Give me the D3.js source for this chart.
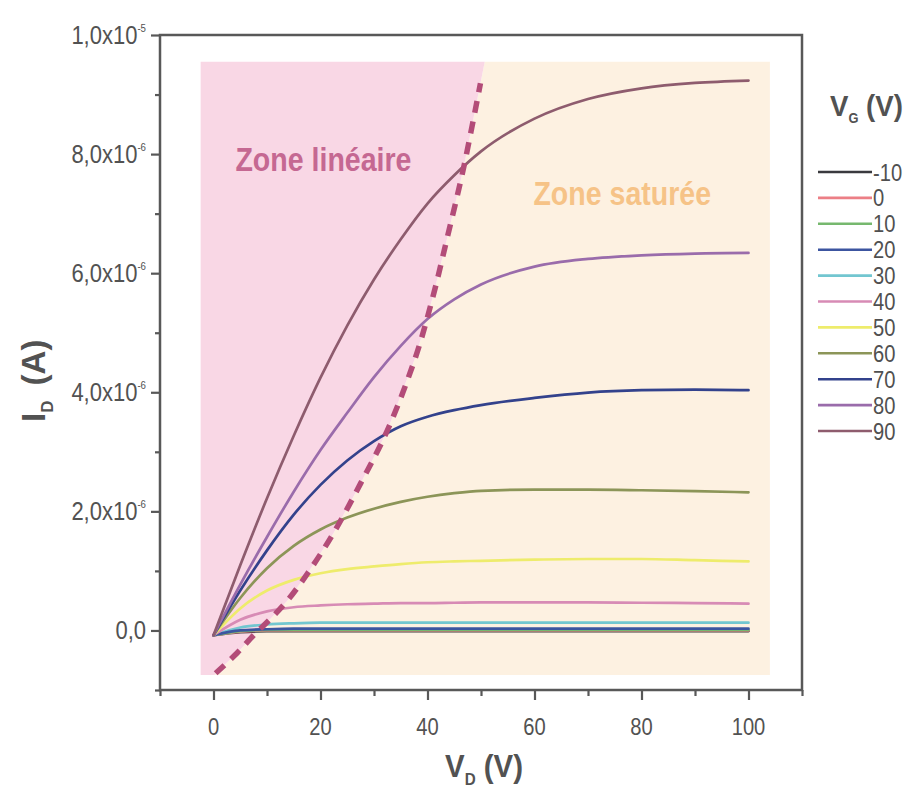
<!DOCTYPE html>
<html>
<head>
<meta charset="utf-8">
<script src="https://cdn.jsdelivr.net/npm/d3@7/dist/d3.min.js"></script>
<style>
  html, body { margin: 0; padding: 0; background: #ffffff; }
  svg { display: block; font-family: "Liberation Sans", Arial, sans-serif; }
</style>
</head>
<body>
<svg id="chart" width="912" height="790"></svg>
<script>
// ---------------- DATA ----------------
const vd = [0, 5, 10, 15, 20, 25, 30, 35, 40, 45, 50, 60, 70, 80, 90, 100];
const gateVoltages = [-10, 0, 10, 20, 30, 40, 50, 60, 70, 80, 90];
// drain current, units of 1e-6 A
const idM10 = [-0.08, -0.03, -0.01, -0.01, -0.01, -0.01, -0.01, -0.01, -0.01, -0.01, -0.01, -0.01, -0.01, -0.01, -0.01, -0.01];
const id0   = [-0.08, -0.02, 0.0, 0.0, 0.0, 0.0, 0.0, 0.0, 0.0, 0.0, 0.0, 0.0, 0.0, 0.0, 0.0, 0.0];
const id10  = [-0.08, -0.01, 0.01, 0.01, 0.01, 0.01, 0.01, 0.01, 0.01, 0.01, 0.01, 0.01, 0.01, 0.01, 0.01, 0.01];
const id20  = [-0.08, 0.0, 0.02, 0.03, 0.03, 0.03, 0.03, 0.03, 0.03, 0.03, 0.03, 0.03, 0.03, 0.03, 0.03, 0.03];
const id30  = [-0.08, 0.05, 0.10, 0.12, 0.13, 0.13, 0.13, 0.13, 0.13, 0.13, 0.13, 0.13, 0.13, 0.13, 0.13, 0.13];
const id40  = [-0.08, 0.18, 0.32, 0.39, 0.42, 0.44, 0.45, 0.46, 0.46, 0.465, 0.47, 0.47, 0.47, 0.465, 0.46, 0.45];
const id50  = [-0.08, 0.37, 0.67, 0.85, 0.96, 1.03, 1.075, 1.115, 1.145, 1.16, 1.17, 1.19, 1.20, 1.20, 1.18, 1.16];
const id60  = [-0.08, 0.545, 1.045, 1.42, 1.695, 1.895, 2.045, 2.16, 2.245, 2.305, 2.345, 2.365, 2.365, 2.355, 2.34, 2.32];
const id70  = [-0.08, 0.67, 1.345, 1.945, 2.445, 2.855, 3.18, 3.43, 3.59, 3.70, 3.785, 3.905, 3.995, 4.035, 4.045, 4.035];
const id80  = [-0.08, 0.77, 1.57, 2.33, 3.03, 3.655, 4.255, 4.78, 5.23, 5.56, 5.81, 6.11, 6.24, 6.30, 6.33, 6.34];
const id90  = [-0.08, 1.095, 2.22, 3.27, 4.245, 5.12, 5.895, 6.57, 7.17, 7.645, 8.045, 8.595, 8.925, 9.105, 9.195, 9.235];
const seriesValues = [idM10, id0, id10, id20, id30, id40, id50, id60, id70, id80, id90];

// saturation boundary (dashed line): VD and ID (1e-6 A)
const boundaryVD = [0.4, 4.5, 7.5, 10.7, 13.8, 17.6, 22.4, 27.5, 32.5, 37.8, 41.0, 43.7, 46.7, 49.9];
const boundaryID = [-0.72, -0.37, -0.08, 0.20, 0.50, 0.96, 1.63, 2.47, 3.36, 4.60, 5.60, 6.60, 7.75, 9.19];

// zone extents (data units)
const zoneLeftVD = -2.4, zoneRightVD = 104, zoneTopID = 9.55, zoneBottomID = -0.75;
const zoneTopBoundaryVD = 50.7, zoneBottomBoundaryVD = 0.2;

// ticks
const xMajorTicks = [0, 20, 40, 60, 80, 100];
const xMinorTicks = [-10, 10, 30, 50, 70, 90, 110];
const yMajorTicks = [0, 2, 4, 6, 8, 10];
const yMinorTicks = [-1, 1, 3, 5, 7, 9];
const yTickMantissa = ["0,0", "2,0x10", "4,0x10", "6,0x10", "8,0x10", "1,0x10"];
const yTickExponent = ["", "-6", "-6", "-6", "-6", "-5"];
const legendLabels = ["-10", "0", "10", "20", "30", "40", "50", "60", "70", "80", "90"];

// ---------------- STYLE ----------------
const colors = ["#3a3a3e", "#ec7f86", "#76b86e", "#3c55a0", "#72c6d0", "#d78bb5",
                "#eeec6c", "#8c9558", "#33428c", "#9a6cab", "#8e5c6e"];
const pinkFill = "#f9d7e5", peachFill = "#fdf1e1";
const textGray = "#525252";
const NARROW = 0.84;

const svg = d3.select("#chart");
const x = d3.scaleLinear().domain([-10, 110]).range([160, 802]);
const y = d3.scaleLinear().domain([-1, 10]).range([690, 35]);

function txt(parent, px, py, o) {
  const g = parent.append("g")
    .attr("transform", `translate(${px},${py})` + (o.rotate ? ` rotate(${o.rotate})` : "") + ` scale(${o.sx || 1},1)`);
  return g.append("text").attr("x", 0).attr("y", 0)
    .attr("text-anchor", o.anchor || "start")
    .attr("font-size", o.size).attr("font-weight", o.weight || "normal")
    .attr("fill", o.fill || textGray);
}

// ---------------- ZONES ----------------
const boundaryPts = boundaryVD.map((v, i) => [v, boundaryID[i]]);
const fullBoundary = [[zoneBottomBoundaryVD, zoneBottomID], ...boundaryPts, [zoneTopBoundaryVD, zoneTopID]];
const poly = d3.line().x(d => x(d[0])).y(d => y(d[1]));
const pinkPoly = [[zoneLeftVD, zoneBottomID], ...fullBoundary, [zoneLeftVD, zoneTopID]];
const peachPoly = [...fullBoundary, [zoneRightVD, zoneTopID], [zoneRightVD, zoneBottomID]];
svg.append("path").attr("d", poly(peachPoly) + "Z").attr("fill", peachFill);
svg.append("path").attr("d", poly(pinkPoly) + "Z").attr("fill", pinkFill);

txt(svg, x(4.1), y(7.72), { size: 34, weight: "bold", fill: "#c56892", sx: NARROW }).text("Zone linéaire");
txt(svg, x(59.8), y(7.14), { size: 34, weight: "bold", fill: "#f6c387", sx: NARROW }).text("Zone saturée");

// ---------------- CURVES ----------------
const line = d3.line().x(d => x(d[0])).y(d => y(d[1])).curve(d3.curveMonotoneX);
const order = [0, 1, 2, 4, 3, 5, 6, 7, 8, 9, 10];
order.forEach(i => {
  const pts = vd.map((v, k) => [v, seriesValues[i][k]]);
  svg.append("path").attr("d", line(pts))
    .attr("fill", "none").attr("stroke", colors[i]).attr("stroke-width", 2.7)
    .attr("stroke-linejoin", "round").attr("stroke-linecap", "round");
});

const bline = d3.line().x(d => x(d[0])).y(d => y(d[1])).curve(d3.curveCatmullRom);
svg.append("path").attr("d", bline(boundaryPts))
  .attr("fill", "none").attr("stroke", "#b34c78").attr("stroke-width", 5.5)
  .attr("stroke-dasharray", "12,9");

// ---------------- AXES ----------------
const axisColor = "#585858";
const gx = svg.append("g").attr("transform", "translate(0,690)")
  .call(d3.axisBottom(x).tickValues(xMajorTicks).tickSize(10).tickFormat(""));
const gxm = svg.append("g").attr("transform", "translate(0,690)")
  .call(d3.axisBottom(x).tickValues(xMinorTicks).tickSize(6).tickFormat(""));
const gy = svg.append("g").attr("transform", "translate(160,0)")
  .call(d3.axisLeft(y).tickValues(yMajorTicks).tickSize(9).tickFormat(""));
const gym = svg.append("g").attr("transform", "translate(160,0)")
  .call(d3.axisLeft(y).tickValues(yMinorTicks).tickSize(5).tickFormat(""));
[gx, gxm, gy, gym].forEach(g => {
  g.select(".domain").remove();
  g.selectAll(".tick line").attr("stroke", axisColor).attr("stroke-width", 2.2);
  g.selectAll(".tick text").remove();
});

xMajorTicks.forEach(v => {
  txt(svg, x(v), 735, { size: 24, anchor: "middle", sx: NARROW }).text(String(v));
});

yMajorTicks.forEach((v, i) => {
  const t = txt(svg, 146, y(v) + 8.5, { size: 25, anchor: "end", sx: 0.88 });
  t.append("tspan").text(yTickMantissa[i]);
  if (yTickExponent[i]) t.append("tspan").attr("dy", -12).attr("font-size", 11).text(yTickExponent[i]);
});

svg.append("rect").attr("x", 160).attr("y", 35).attr("width", 642).attr("height", 655)
  .attr("fill", "none").attr("stroke", axisColor).attr("stroke-width", 2.5);

// axis titles
const xt = txt(svg, 445, 777, { size: 31, weight: "bold", sx: 0.95 });
xt.append("tspan").text("V");
xt.append("tspan").attr("dy", 8).attr("font-size", 16).text("D");
xt.append("tspan").attr("dy", -8).text(" (V)");

const yt = txt(svg, 45, 422, { size: 33, weight: "bold", rotate: -90 });
yt.append("tspan").text("I");
yt.append("tspan").attr("dy", 8).attr("font-size", 17).text("D");
yt.append("tspan").attr("dy", -8).attr("dx", 6).text(" (A)");

// ---------------- LEGEND ----------------
const lt = txt(svg, 830, 116, { size: 30, weight: "bold", sx: 0.92 });
lt.append("tspan").text("V");
lt.append("tspan").attr("dy", 7).attr("font-size", 14).text("G");
lt.append("tspan").attr("dy", -7).text(" (V)");

gateVoltages.forEach((g, i) => {
  const yy = 172 + i * 25.9;
  svg.append("line").attr("x1", 818).attr("x2", 872).attr("y1", yy).attr("y2", yy)
    .attr("stroke", colors[i]).attr("stroke-width", 2.6);
  txt(svg, 873, yy + 8.5, { size: 24, sx: NARROW, fill: "#505050" }).text(legendLabels[i]);
});
</script>
</body>
</html>
